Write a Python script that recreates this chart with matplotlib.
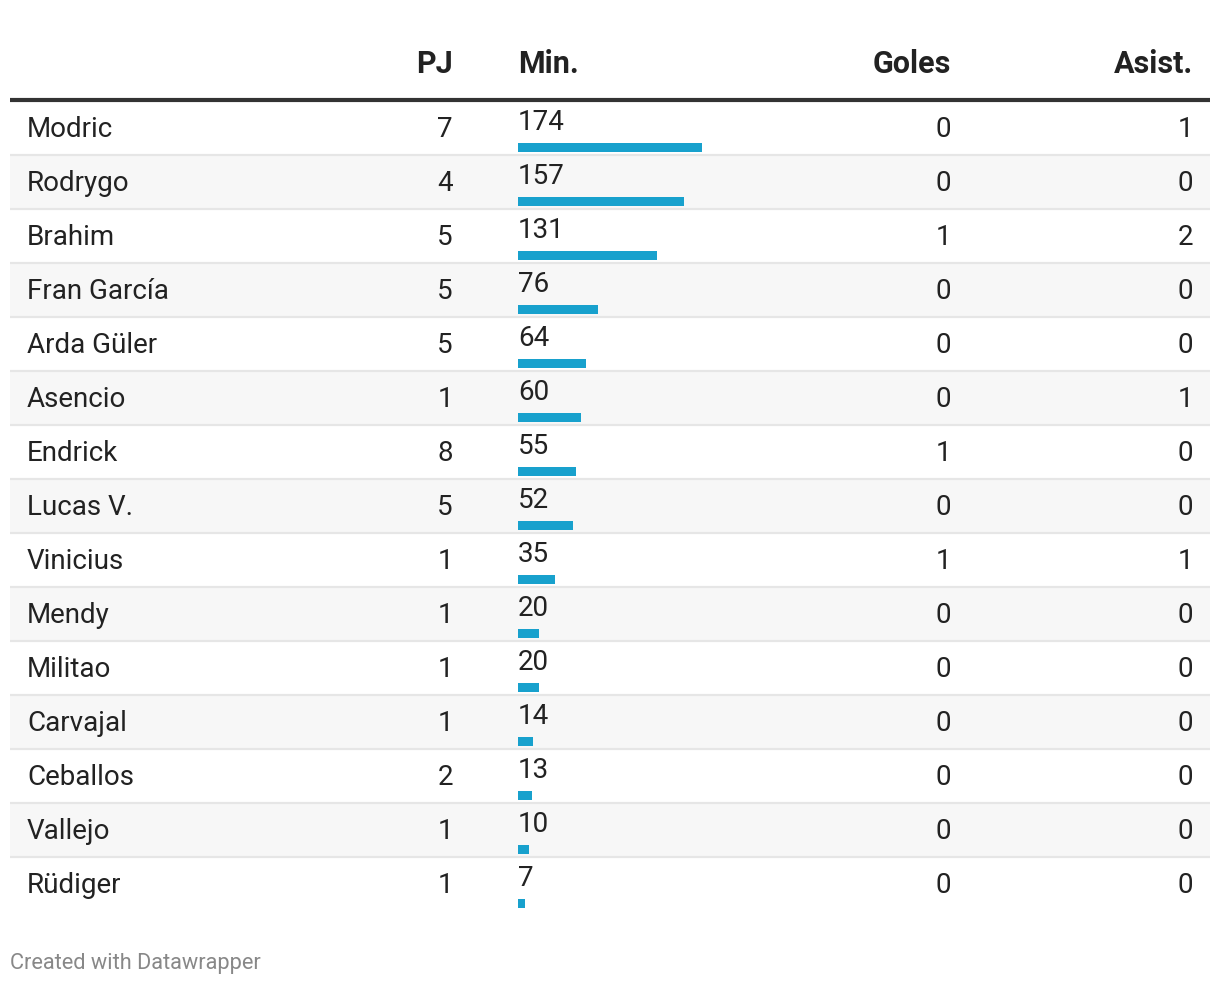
import matplotlib.pyplot as plt

players = ["Modric", "Rodrygo", "Brahim", "Fran García", "Arda Güler", "Asencio",
           "Endrick", "Lucas V.", "Vinicius", "Mendy", "Militao", "Carvajal",
           "Ceballos", "Vallejo", "Rüdiger"]
pj = [7, 4, 5, 5, 5, 1, 8, 5, 1, 1, 1, 1, 2, 1, 1]
minutes = [174, 157, 131, 76, 64, 60, 55, 52, 35, 20, 20, 14, 13, 10, 7]
goles = [0, 0, 1, 0, 0, 0, 1, 0, 1, 0, 0, 0, 0, 0, 0]
asist = [1, 0, 2, 0, 0, 1, 0, 0, 1, 0, 0, 0, 0, 0, 0]
headers = ["PJ", "Min.", "Goles", "Asist."]

W, H = 1220, 986
plt.rcParams['font.family'] = ['Roboto', 'DejaVu Sans']

fig = plt.figure(figsize=(W / 100, H / 100), dpi=100)
ax = fig.add_axes([0, 0, 1, 1])
ax.set_xlim(0, W)
ax.set_ylim(H, 0)
ax.axis("off")

top = 101
rh = 54
left, right = 10, 1210
fs = 20
hfs = 22
txt = "#222222"

# header
hy = 64
ax.text(453, hy, headers[0], ha="right", va="center", fontsize=hfs, fontweight="bold", color=txt)
ax.text(518, hy, headers[1], ha="left", va="center", fontsize=hfs, fontweight="bold", color=txt)
ax.text(951, hy, headers[2], ha="right", va="center", fontsize=hfs, fontweight="bold", color=txt)
ax.text(1193, hy, headers[3], ha="right", va="center", fontsize=hfs, fontweight="bold", color=txt)

for i, name in enumerate(players):
    y0 = top + rh * i
    if i % 2 == 1:
        ax.add_patch(plt.Rectangle((left, y0), right - left, rh, color="#f7f7f7", lw=0, zorder=0))
    if i > 0:
        ax.plot([left, right], [y0, y0], color="#e6e6e6", lw=1.6, zorder=1,
                solid_capstyle="butt")
    cy = y0 + rh / 2 + 1.5
    ax.text(27, cy, name, ha="left", va="center", fontsize=fs, color=txt)
    ax.text(453, cy, str(pj[i]), ha="right", va="center", fontsize=fs, color=txt)
    ax.text(518, y0 + 21, str(minutes[i]), ha="left", va="center", fontsize=fs, color=txt)
    ax.text(951, cy, str(goles[i]), ha="right", va="center", fontsize=fs, color=txt)
    ax.text(1193, cy, str(asist[i]), ha="right", va="center", fontsize=fs, color=txt)

ax.plot([left, right], [top - 1.5, top - 1.5], color="#333333", lw=3, zorder=2,
        solid_capstyle="butt")

# bars in their own axes, 0..174 minutes spans 184 px
bx0, bx1 = 518, 702
bax = fig.add_axes([bx0 / W, 0, (bx1 - bx0) / W, 1])
bax.set_xlim(0, max(minutes))
bax.set_ylim(H, 0)
bax.axis("off")
bar_y = [top + rh * i + 46.5 for i in range(len(players))]
bax.barh(bar_y, minutes, height=9.5, left=0, color="#18a1cd", zorder=3)

ax.text(10, 963, "Created with Datawrapper", ha="left", va="center", fontsize=15.7, color="#888888")

fig.savefig("out.png", dpi=100)
